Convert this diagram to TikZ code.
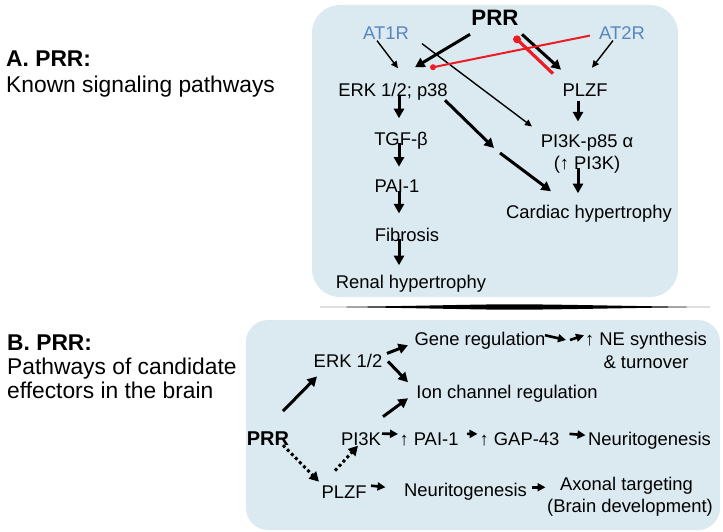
\documentclass[tikz,border=0pt]{standalone}
\usepackage{fontspec}
\setmainfont{Liberation Sans}
\usetikzlibrary{arrows.meta,calc}
\definecolor{boxblue}{RGB}{219,234,241}
\definecolor{atblue}{RGB}{88,133,190}
\definecolor{inhred}{RGB}{236,28,36}
\begin{document}
\begin{tikzpicture}[x=1pt,y=-1pt,
  lbl/.style={font=\fontsize{18.4}{22}\selectfont, inner sep=0pt, anchor=base},
  atlbl/.style={lbl, text=atblue},
  prrlbl/.style={font=\fontsize{22.3}{26}\selectfont\bfseries, inner sep=0pt, anchor=base},
  prrlblb/.style={font=\fontsize{20}{24}\selectfont\bfseries, inner sep=0pt, anchor=base},
  head/.style={font=\fontsize{22.8}{26}\selectfont, inner sep=0pt, anchor=base west},
  headb/.style={head, font=\fontsize{22.8}{26}\selectfont\bfseries},
  panel/.style={fill=boxblue, rounded corners=28pt},
  thickarrow/.style={line width=3pt, -{Triangle[length=9.5pt,width=10pt]}},
  thinarrow/.style={line width=1.4pt, -{Triangle[length=7pt,width=6.5pt]}},
  smallarrow/.style={line width=2.6pt, -{Triangle[length=8pt,width=8pt]}},
  dotarrow/.style={line width=3pt, dash pattern=on 3pt off 2.8pt, -{Triangle[length=9.5pt,width=10pt]}},
  inhib/.style={inhred, line width=2pt},
  inhibthick/.style={inhred, line width=3.2pt}
]
\useasboundingbox (0,0) rectangle (723,532);

% panels
\fill[panel] (312,5) rectangle (678,297);
\fill[panel, rounded corners=22pt] (246,320) rectangle (720,530);

% separator wedge
\fill (320,307) .. controls (420,306.2) and (470,304.3) .. (513,304.3)
  .. controls (560,304.3) and (640,306.4) .. (710,307)
  .. controls (640,307.6) and (560,309.7) .. (513,309.7)
  .. controls (470,309.7) and (420,307.8) .. (320,307) -- cycle;

% headings
\node[headb] (hA1) at (6,67) {A. PRR:};
\node[head] (hA2) at (6,93) {Known signaling pathways};
\node[headb] (hB1) at (7,350) {B. PRR:};
\node[head] (hB2) at (7,374) {Pathways of candidate};
\node[head] (hB3) at (7,398) {effectors in the brain};

% ---- Panel A ----
\node[prrlbl] (prrA) at (495,26) {PRR};
\node[atlbl] (at1r) at (386,40) {AT1R};
\node[atlbl] (at2r) at (622,40) {AT2R};
\node[lbl] (erk) at (393,97) {ERK 1/2; p38};
\node[lbl] (plzf) at (585,97) {PLZF};
\node[lbl] (tgf) at (401,146) {TGF-β};
\node[lbl] (pi3k) at (587,148) {PI3K-p85 α};
\node[lbl] (pi3kb) at (587,170) {(↑ PI3K)};
\node[lbl] (pai) at (397,192) {PAI-1};
\node[lbl] (cardiac) at (589,218) {Cardiac hypertrophy};
\node[lbl] (fib) at (407,241) {Fibrosis};
\node[lbl] (renal) at (411,288) {Renal hypertrophy};

\draw[thinarrow] ($(at1r)+(-9,7)$) -- ($(erk)+(5,-24)$);
\draw[thickarrow] ($(prrA)+(-25,16)$) -- ($(erk)+(22,-25)$);
\draw[thinarrow] ($(at1r)+(36,10)$) -- ($(pi3k)+(-55,-17)$);
\draw[thickarrow] ($(prrA)+(27,16)$) -- ($(plzf)+(-24,-21)$);
\draw[thinarrow] ($(at2r)+(-9,7)$) -- ($(plzf)+(7,-23)$);

% inhibitions
\draw[inhib] ($(at2r)+(-32,2)$) -- ($(erk)+(40,-25)$) coordinate (inh1);
\fill[inhred] (inh1) circle (3pt);
\draw[inhibthick] ($(plzf)+(-32,-17)$) -- ($(prrA)+(22,21)$) coordinate (inh2);
\fill[inhred] (inh2) circle (4pt);

% ERK -> cardiac (broken)
\coordinate (ec1) at (494,148);
\coordinate (ec2) at (500,153);
\draw[thickarrow] ($(erk)+(52,8)$) -- (ec1);
\draw[thickarrow] (ec2) -- ($(cardiac)+(-38,-22)$);

% vertical chain
\draw[thickarrow] ($(erk)+(6,3)$) -- ($(tgf)+(-2,-23)$);
\draw[thickarrow] ($(tgf)+(-2,2)$) -- ($(pai)+(2,-19)$);
\draw[thickarrow] ($(pai)+(2,5)$) -- ($(fib)+(-8,-21)$);
\draw[thickarrow] ($(fib)+(-8,5)$) -- ($(renal)+(-12,-18)$);
\draw[thickarrow] ($(plzf)+(-7,10)$) -- ($(pi3k)+(-9,-22)$);
\draw[thickarrow] ($(pi3kb)+(-9,3)$) -- ($(cardiac)+(-11,-20)$);

% ---- Panel B ----
\node[prrlblb] (prrB) at (268,445) {PRR};
\node[lbl] (erkB) at (348,367) {ERK 1/2};
\node[lbl] (gene) at (480,345) {Gene regulation};
\node[lbl] (ne1) at (646,345) {↑ NE synthesis};
\node[lbl] (ne2) at (646,368) {\& turnover};
\node[lbl] (ion) at (507,398) {Ion channel regulation};
\node[lbl] (pi3kB) at (361,445) {PI3K};
\node[lbl] (paiB) at (429,445) {↑ PAI-1};
\node[lbl] (gap) at (519.5,445) {↑ GAP-43};
\node[lbl] (neuro1) at (649.5,445) {Neuritogenesis};
\node[lbl] (plzfB) at (344,498) {PLZF};
\node[lbl] (neuro2) at (465.5,496) {Neuritogenesis};
\node[lbl] (axon1) at (626.5,490) {Axonal targeting};
\node[lbl] (axon2) at (630,512) {(Brain development)};

\draw[thickarrow] ($(prrB)+(15,-27)$) -- ($(erkB)+(-31,16)$);
\draw[thickarrow] ($(erkB)+(39,-7)$) -- ($(gene)+(-72,5)$);
\draw[thickarrow] ($(erkB)+(40,1)$) -- ($(ion)+(-99,-11)$);
\draw[thickarrow] ($(pi3kB)+(22,-22)$) -- ($(ion)+(-99,5)$);
\draw[dotarrow] ($(prrB)+(15,7)$) -- ($(plzfB)+(-25,-10)$);
\draw[dotarrow] ($(plzfB)+(-9,-21)$) -- ($(pi3kB)+(-3,7)$);

\draw[smallarrow] ($(pi3kB)+(21,-5)$) -- ($(paiB)+(-31,-5)$);
\draw[smallarrow] ($(paiB)+(38,-5)$) -- ($(gap)+(-42,-5)$);
\draw[smallarrow] ($(gap)+(50,-5)$) -- ($(neuro1)+(-64,-5)$);
\draw[smallarrow] ($(plzfB)+(27,-6)$) -- ($(neuro2)+(-80,-4)$);
\draw[smallarrow] ($(neuro2)+(66,-4)$) -- ($(axon1)+(-81,2)$);
\coordinate (gm1) at (566,340);
\coordinate (gm2) at (570,340);
\draw[smallarrow] ($(gene)+(65,-5)$) -- (gm1);
\draw[smallarrow] (gm2) -- ($(ne1)+(-62,-5)$);
\end{tikzpicture}
\end{document}
